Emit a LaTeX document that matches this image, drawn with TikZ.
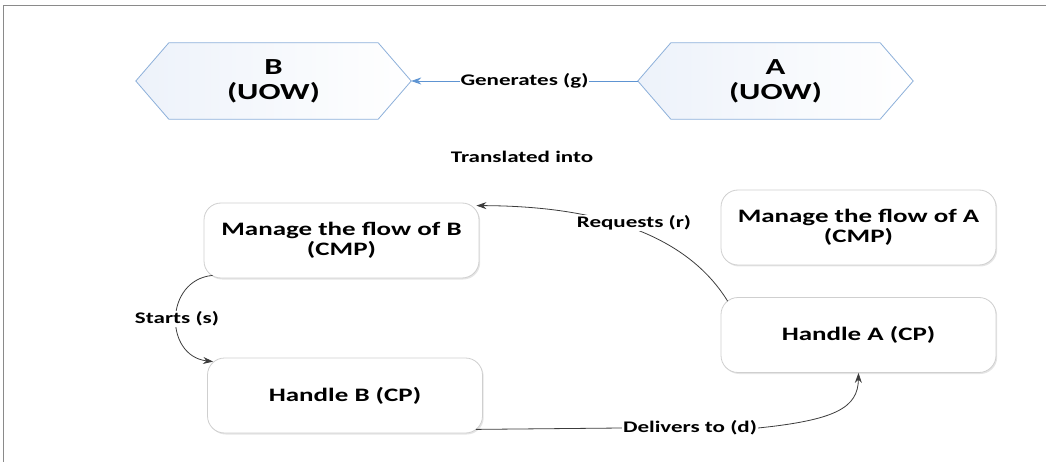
\documentclass[tikz,border=0pt]{standalone}
\usepackage{fontspec}
\setmainfont[FakeStretch=1.42]{Carlito}
\usetikzlibrary{arrows.meta,calc,backgrounds,shadows}

\definecolor{hexedge}{HTML}{8DB0DA}
\definecolor{hexfill}{HTML}{EDF2FA}
\definecolor{genblue}{HTML}{5E94D2}
\definecolor{boxedge}{HTML}{CFCFCF}
\definecolor{linkgray}{HTML}{3C3C3C}
\definecolor{framegray}{HTML}{8A8A8A}

\tikzset{
  hexbox/.style={minimum width=275pt, minimum height=76pt, inner sep=0pt,
    align=center, font=\fontsize{23}{25}\selectfont\bfseries},
  hexline/.style={draw=hexedge, line width=0.8pt, left color=hexfill, right color=white},
  roundbox/.style={draw=boxedge, fill=white, rounded corners=17pt, line width=0.8pt,
    minimum width=275pt, minimum height=75pt, inner sep=0pt, align=center,
    font=\fontsize{19}{20}\selectfont\bfseries,
    drop shadow={shadow xshift=1.2pt, shadow yshift=-1.5pt, opacity=0.10, fill=black}},
  lab/.style={fill=white, inner sep=1pt, font=\fontsize{16.2}{18}\selectfont\bfseries},
  freetext/.style={inner sep=0pt, font=\fontsize{16.2}{18}\selectfont\bfseries},
  link/.style={draw=linkgray, line width=0.8pt},
  linkarrow/.style={link, -{Stealth[length=10pt,width=7pt]}},
  genarrow/.style={draw=genblue, line width=0.8pt, -{Stealth[length=10pt,width=7pt]}}
}

\begin{document}
\begin{tikzpicture}[x=1pt,y=-1pt]
  \useasboundingbox (0,0) rectangle (1046,462);

  % outer frame (top and left edges)
  \draw[framegray, line width=1.3pt] (3.5,462) -- (3.5,5.5) -- (1046,5.5);

  % units of work
  \node[hexbox] (hb) at (273.5,81) {B\\(UOW)};
  \node[hexbox] (ha) at (775.5,81) {A\\(UOW)};
  \begin{scope}[on background layer]
    \foreach \h in {hb,ha}{
      \path[hexline] (\h.west) -- ([xshift=33pt]\h.north west) -- ([xshift=-33pt]\h.north east)
        -- (\h.east) -- ([xshift=-33pt]\h.south east) -- ([xshift=33pt]\h.south west) -- cycle;
    }
  \end{scope}
  \draw[genarrow] (ha.west) -- (hb.east) node[midway, lab] {Generates (g)};

  \node[freetext] (tr) at (522,157) {Translated into};

  % processes
  \node[roundbox] (mb) at (341.5,240.5) {Manage the flow of B\\(CMP)};
  \node[roundbox] (hB) at (345,395.5) {Handle B (CP)};
  \node[roundbox] (ma) at (858.5,227.5) {Manage the flow of A\\(CMP)};
  \node[roundbox] (ha2) at (858.5,335) {Handle A (CP)};

  % starts
  \draw[linkarrow] ($(mb.south west)+(9,-3)$) .. controls (164,280) and (164,356) .. ($(hB.north west)+(6,4)$);
  \node[lab] (st) at (177,319) {Starts (s)};

  % requests
  \draw[linkarrow] ($(ha2.north west)+(7,4)$) .. controls (690,240) and (610,206) .. ($(mb.north east)+(-3,3)$);
  \node[lab] (rq) at (634,223) {Requests (r)};

  % delivers to
  \node[lab] (dl) at (690,428) {Delivers to (d)};
  \draw[link] ($(hB.south east)+(-7,-4)$) -- (dl.west);
  \draw[linkarrow] (dl.east) .. controls (835,420) and (858,408) .. (ha2.south);
\end{tikzpicture}
\end{document}
